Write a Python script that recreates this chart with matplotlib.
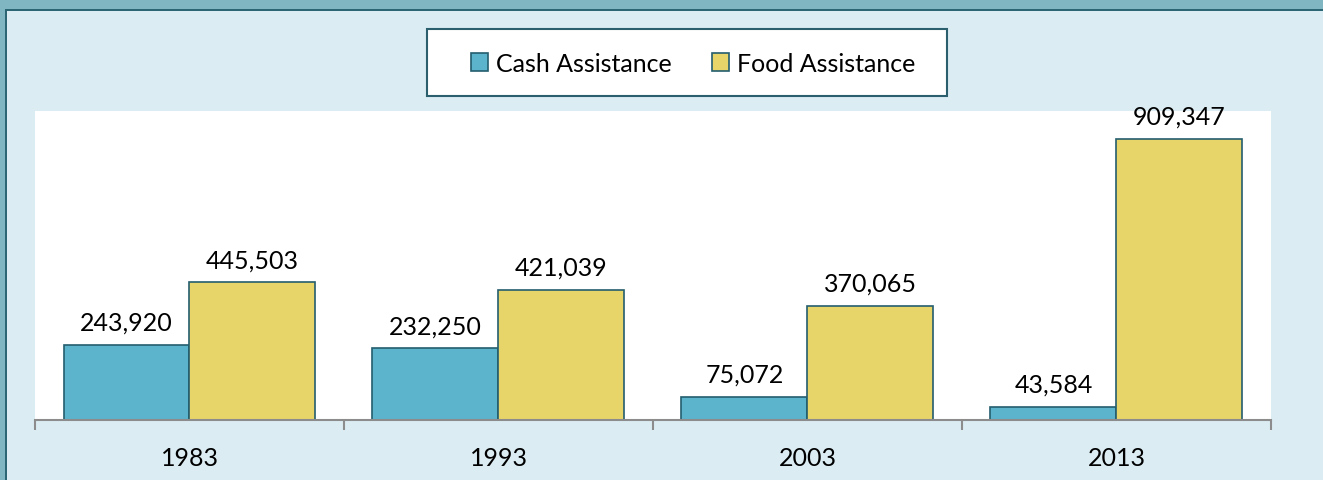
import matplotlib.pyplot as plt
import numpy as np
from matplotlib.patches import Rectangle

years = ['1983', '1993', '2003', '2013']
cash = [243920, 232250, 75072, 43584]
food = [445503, 421039, 370065, 909347]

W, H = 1323, 481
fig = plt.figure(figsize=(W / 100, H / 100), dpi=100)
fig.patch.set_facecolor('#DBEDF3')
plt.rcParams['font.family'] = ['Lato', 'DejaVu Sans']

# pixel rectangle helper (top-left origin)
def px_rect(x0, y0, w, h, fc, ec='none', lw=0, z=0):
    r = Rectangle((x0 / W, 1 - (y0 + h) / H), w / W, h / H,
                  transform=fig.transFigure, facecolor=fc,
                  edgecolor=ec, linewidth=lw, zorder=z)
    fig.patches.append(r)

# frame at top and left
px_rect(0, 0, W, 10, '#80B6C1')
px_rect(0, 0, 5, H, '#80B6C1')
px_rect(5, 10, W - 5, 2, '#2C6675')
px_rect(5, 10, 2, H - 10, '#2C6675')

# legend box
px_rect(427, 30, 520, 67, 'white', '#2C5F6E', 1.5, 1)

ax = fig.add_axes([35 / W, (H - 421) / H, (1271 - 35) / W, (421 - 112) / H])
ax.set_facecolor('white')

x = np.arange(len(years))
bw = 126 / 309
b1 = ax.bar(x - bw / 2, cash, bw, color='#5BB3CC', edgecolor='#245E6E',
            linewidth=1.2, label='Cash Assistance')
b2 = ax.bar(x + bw / 2, food, bw, color='#E8D56A', edgecolor='#245E6E',
            linewidth=1.2, label='Food Assistance')

for bars in (b1, b2):
    for r in bars:
        v = r.get_height()
        ax.annotate(f'{v:,.0f}', (r.get_x() + r.get_width() / 2, v),
                    xytext=(0, 8), textcoords='offset points',
                    ha='center', va='bottom', fontsize=18, color='black')

ax.set_xlim(-0.5, len(years) - 0.5)
ax.set_ylim(0, 1000000)
ax.set_yticks([])
for s in ('top', 'right', 'left'):
    ax.spines[s].set_visible(False)
ax.spines['bottom'].set_color('#8C8C8C')
ax.spines['bottom'].set_linewidth(1.5)

ax.set_xticks(x)
ax.set_xticklabels(years, fontsize=18)
ax.tick_params(axis='x', which='major', length=0, pad=19)
ax.set_xticks(np.arange(-0.5, len(years)), minor=True)
ax.tick_params(axis='x', which='minor', length=7, width=1.5, color='#8C8C8C')

leg = fig.legend(handles=[b1, b2], loc='center', ncol=2,
                 bbox_to_anchor=(693 / W, 1 - 64 / H),
                 fontsize=18, frameon=False,
                 handlelength=0.7, handleheight=0.7, handletextpad=0.3,
                 columnspacing=1.6, borderpad=0, borderaxespad=0)
leg.set_zorder(2)

fig.savefig('out.png', dpi=100, facecolor=fig.get_facecolor())
